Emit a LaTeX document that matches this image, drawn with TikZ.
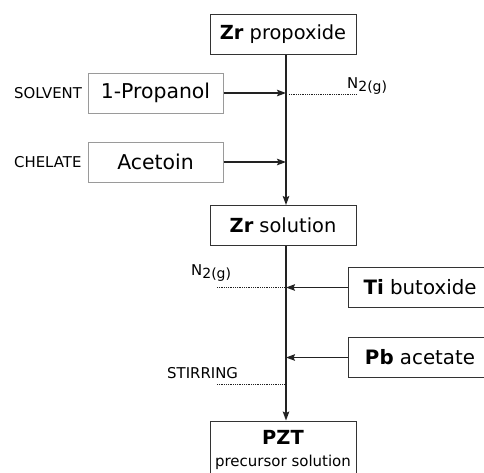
\documentclass[tikz,border=0pt]{standalone}
\usepackage{fontspec}
\setmainfont{DejaVu Sans}
\usetikzlibrary{arrows.meta,calc}
\definecolor{boxdark}{HTML}{333333}
\definecolor{boxgray}{HTML}{9A9A9A}
\definecolor{linec}{HTML}{222222}
\tikzset{
  mainbox/.style={draw=boxdark,line width=1pt,inner sep=0pt,minimum height=40pt,
    font=\fontsize{19.4}{22}\selectfont,anchor=center},
  graybox/.style={mainbox,draw=boxgray,font=\fontsize{20.4}{23}\selectfont},
  flow/.style={draw=linec,line width=1.5pt,-{Stealth[length=9pt,width=6.5pt,inset=1.5pt]}},
  gas/.style={draw=linec,line width=1pt,dash pattern=on 0.9pt off 0.9pt},
  lab/.style={font=\fontsize{14.9}{17}\selectfont,inner sep=0pt},
}
\newcommand{\ntwo}{N\raisebox{-3pt}{\fontsize{14}{16}\selectfont 2(g)}}
\begin{document}
\begin{tikzpicture}[x=1pt,y=-1pt]
\useasboundingbox (0,0) rectangle (484,472);
\clip (0,0) rectangle (484,472);
\fill[white] (0,0) rectangle (484,472);
\coordinate (ax) at (286,0);
% boxes
\node[mainbox,minimum width=146pt] (zrp) at (283,34) {\textbf{Zr} propoxide};
\node[graybox,minimum width=135pt] (prop) at (155.5,93) {1-Propanol};
\node[graybox,minimum width=135pt] (acet) at (155.5,162) {Acetoin};
\node[mainbox,minimum width=146pt] (zrs) at (283,225.5) {\textbf{Zr} solution};
\node[mainbox,minimum width=144pt,font=\fontsize{19.8}{22}\selectfont] (ti) at (420,287.5) {\textbf{Ti} butoxide};
\node[mainbox,minimum width=144pt,font=\fontsize{19.8}{22}\selectfont] (pb) at (420,357.5) {\textbf{Pb} acetate};
\node[draw=boxdark,line width=1pt,minimum width=146pt,minimum height=62pt,inner sep=0pt] (pzt) at (283,452) {};
\node[font=\fontsize{19.4}{22}\selectfont\bfseries,inner sep=0pt,anchor=base] (pztt) at (283,444) {PZT};
\node[font=\fontsize{15}{17}\selectfont,inner sep=0pt,anchor=base] (pzts) at (283,466) {precursor solution};
% labels
\node[lab,anchor=base west] (solv) at (14,98) {SOLVENT};
\node[lab,anchor=base west] (chel) at (14,167) {CHELATE};
\node[lab,anchor=base west] (stir) at (167,378) {STIRRING};
\node[lab,anchor=base west] (n2a) at (347,88) {\ntwo};
\node[lab,anchor=base west] (n2b) at (191,275) {\ntwo};
% junction coordinates
\coordinate (j1) at (286,93);
\coordinate (j2) at (286,162);
\coordinate (j3) at (286,287.5);
\coordinate (j4) at (286,357.5);
% main flow
\draw[flow] (zrp.south -| ax) -- (zrs.north -| ax);
\draw[flow] (zrs.south -| ax) -- (pzt.north -| ax);
% side inputs
\draw[flow] (prop.east) -- (j1);
\draw[flow] (acet.east) -- (j2);
\draw[flow] (ti.west) -- (j3);
\draw[flow] (pb.west) -- (j4);
% gas / stirring dotted lines
\coordinate (g1a) at (289,94);
\coordinate (g1b) at (356,94);
\draw[gas] (g1a) -- (g1b);
\coordinate (g2a) at (217,287.5);
\coordinate (g2b) at (284,287.5);
\draw[gas] (g2a) -- (g2b);
\coordinate (g3a) at (217,384);
\coordinate (g3b) at (284,384);
\draw[gas] (g3a) -- (g3b);
\end{tikzpicture}
\end{document}
